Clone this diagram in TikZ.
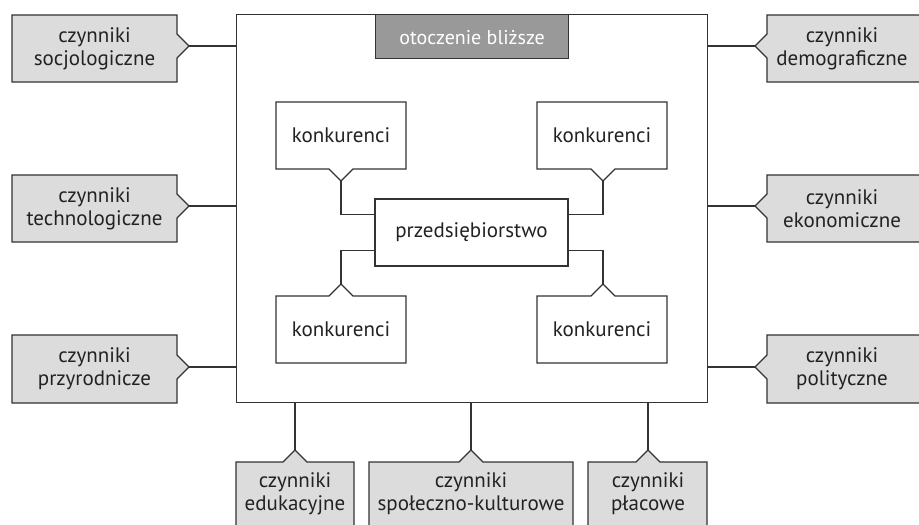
\documentclass[tikz,border=0pt]{standalone}
\usepackage{fontspec}
\setmainfont{PT Sans}
\definecolor{linec}{HTML}{333333}
\definecolor{boxgray}{HTML}{DCDCDC}
\definecolor{hdrgray}{HTML}{999999}
\definecolor{textc}{HTML}{222222}
\begin{document}
\begin{tikzpicture}[x=1pt,y=-1pt,
  gbox/.style={draw=linec, fill=boxgray, line width=1.3pt, line join=miter},
  wbox/.style={draw=linec, fill=white, line width=1.3pt, line join=miter},
  lbl/.style={font=\fontsize{21}{23}\selectfont, align=center, text=textc, inner sep=0pt},
  conn/.style={draw=linec, line width=1.3pt}]
\useasboundingbox (0,0) rectangle (919,525);
\clip (0,0) rectangle (919,525);
\fill[white] (0,0) rectangle (919,525);

% environment square
\node[wbox, minimum width=471pt, minimum height=388pt, anchor=north west, inner sep=0pt] (env) at (236,14) {};
\node[draw=linec, fill=hdrgray, line width=1.3pt, minimum width=193pt, minimum height=44pt, anchor=north west, inner sep=0pt] (hdr) at (375,14) {};
\node[font=\fontsize{20}{22}\selectfont, text=white, inner sep=0pt] (hdrtext) at ([yshift=-1pt]hdr.center) {otoczenie bliższe};

% company
\node[wbox, minimum width=193pt, minimum height=67pt, lbl, inner sep=0pt] (firm) at (471.5,232.5) {przedsiębiorstwo};

% competitors
\draw[wbox] (276,102) -- (406,102) -- (406,169) -- (353,169) -- (341,181) -- (329,169) -- (276,169) -- cycle;
\node[lbl] (k1) at (341,135.5) {konkurenci};
\coordinate (k1t) at (341,181);
\draw[wbox] (537,102) -- (667,102) -- (667,169) -- (615,169) -- (603,181) -- (591,169) -- (537,169) -- cycle;
\node[lbl] (k2) at (602,135.5) {konkurenci};
\coordinate (k2t) at (603,181);
\draw[wbox] (276,296) -- (329,296) -- (341,284) -- (353,296) -- (406,296) -- (406,363) -- (276,363) -- cycle;
\node[lbl] (k3) at (341,329.5) {konkurenci};
\coordinate (k3t) at (341,284);
\draw[wbox] (537,296) -- (591,296) -- (603,284) -- (615,296) -- (667,296) -- (667,363) -- (537,363) -- cycle;
\node[lbl] (k4) at (602,329.5) {konkurenci};
\coordinate (k4t) at (603,284);

\draw[conn] (k1t) |- ([yshift=18pt]firm.west);
\draw[conn] (k2t) |- ([yshift=18pt]firm.east);
\draw[conn] (k3t) |- ([yshift=-18pt]firm.west);
\draw[conn] (k4t) |- ([yshift=-18pt]firm.east);

% left factors
\draw[gbox] (12,15) -- (177,15) -- (177,34) -- (189,46) -- (177,58) -- (177,82) -- (12,82) -- cycle;
\node[lbl] (l1) at (94.5,48.5) {czynniki\\socjologiczne};
\coordinate (l1t) at (189,46);
\draw[gbox] (12,175) -- (177,175) -- (177,194) -- (189,206) -- (177,218) -- (177,242) -- (12,242) -- cycle;
\node[lbl] (l2) at (94.5,208.5) {czynniki\\technologiczne};
\coordinate (l2t) at (189,206);
\draw[gbox] (12,335) -- (177,335) -- (177,355) -- (189,367) -- (177,379) -- (177,403) -- (12,403) -- cycle;
\node[lbl] (l3) at (94.5,369) {czynniki\\przyrodnicze};
\coordinate (l3t) at (189,367);

% right factors
\draw[gbox] (767,15) -- (930,15) -- (930,82) -- (767,82) -- (767,58) -- (755,46) -- (767,34) -- cycle;
\node[lbl] (r1) at (842,48.5) {czynniki\\demograficzne};
\coordinate (r1t) at (755,46);
\draw[gbox] (767,175) -- (930,175) -- (930,242) -- (767,242) -- (767,218) -- (755,206) -- (767,194) -- cycle;
\node[lbl] (r2) at (842,208.5) {czynniki\\ekonomiczne};
\coordinate (r2t) at (755,206);
\draw[gbox] (767,335) -- (930,335) -- (930,403) -- (767,403) -- (767,379) -- (755,367) -- (767,355) -- cycle;
\node[lbl] (r3) at (842,369) {czynniki\\polityczne};
\coordinate (r3t) at (755,367);

% bottom factors
\draw[gbox] (236,462) -- (283,462) -- (295,450) -- (307,462) -- (354,462) -- (354,540) -- (236,540) -- cycle;
\node[lbl] (b1) at (295,494) {czynniki\\edukacyjne};
\coordinate (b1t) at (295,450);
\draw[gbox] (369,462) -- (459,462) -- (471,450) -- (483,462) -- (573,462) -- (573,540) -- (369,540) -- cycle;
\node[lbl] (b2) at (471,494) {czynniki\\społeczno-kulturowe};
\coordinate (b2t) at (471,450);
\draw[gbox] (588,462) -- (636,462) -- (648,450) -- (660,462) -- (707,462) -- (707,540) -- (588,540) -- cycle;
\node[lbl] (b3) at (648,494) {czynniki\\płacowe};
\coordinate (b3t) at (648,450);

% connectors to environment
\draw[conn] (l1t) -- (l1t -| env.west);
\draw[conn] (l2t) -- (l2t -| env.west);
\draw[conn] (l3t) -- (l3t -| env.west);
\draw[conn] (r1t) -- (r1t -| env.east);
\draw[conn] (r2t) -- (r2t -| env.east);
\draw[conn] (r3t) -- (r3t -| env.east);
\draw[conn] (b1t) -- (b1t |- env.south);
\draw[conn] (b2t) -- (b2t |- env.south);
\draw[conn] (b3t) -- (b3t |- env.south);
\end{tikzpicture}
\end{document}
